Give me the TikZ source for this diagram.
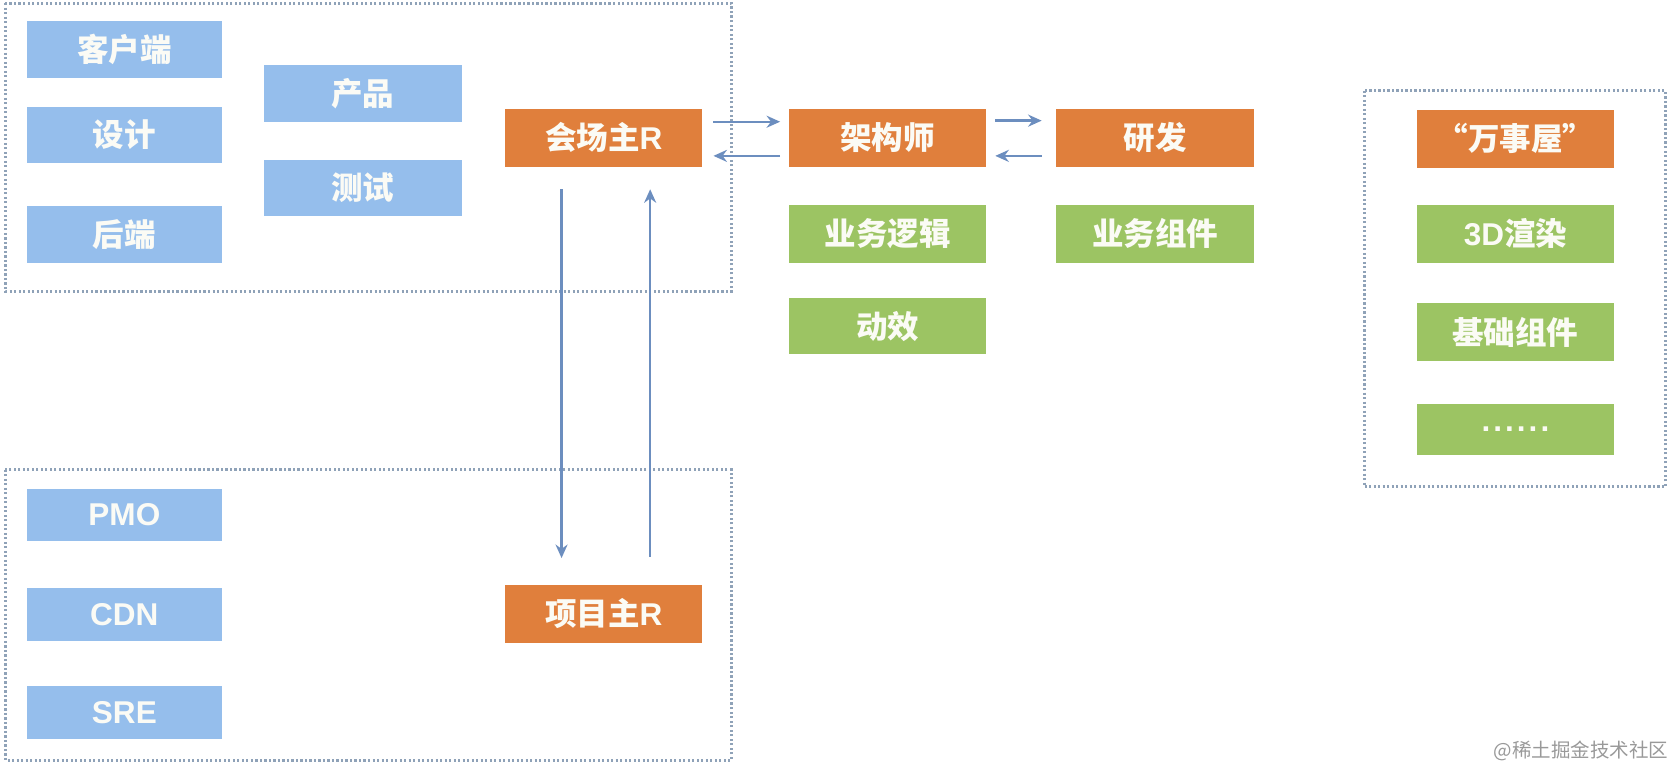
\documentclass[tikz,border=0pt]{standalone}
\usepackage{fontspec}
\setmainfont{Noto Sans CJK SC}
\newfontfamily\wmfont{Noto Sans CJK SC}
\newfontfamily\latinfont{Liberation Sans}
\usetikzlibrary{arrows.meta,calc}
\definecolor{cblue}{HTML}{95BEEC}
\definecolor{corange}{HTML}{E07F3C}
\definecolor{cgreen}{HTML}{9CC463}
\definecolor{cdot}{HTML}{8FA2B8}
\definecolor{carrow}{HTML}{6C8EBF}
\definecolor{ctext}{HTML}{FBFBF5}
\newcommand{\mydot}{.\kern2pt}
\tikzset{
  box/.style={minimum width=185*0.025cm, minimum height=54*0.025cm, inner sep=0pt,
    text=ctext, font=\fontsize{21}{25}\selectfont\bfseries},
  bluebox/.style={box, fill=cblue},
  orangebox/.style={box, fill=corange},
  greenbox/.style={box, fill=cgreen},
  grp/.style={draw=cdot, line width=2pt, dash pattern=on 1.4pt off 1.6pt},
  arr/.style={draw=carrow, line width=1.6pt, -{Stealth[length=9pt,width=8pt]}},
}
\begin{document}
\begin{tikzpicture}[x=0.025cm,y=-0.025cm]
\useasboundingbox (0,0) rectangle (1568,717);
% groups
\draw[grp] (5,3) rectangle (685,273);
\draw[grp] (5,440) rectangle (685,712);
\draw[grp] (1278,85) rectangle (1560,456);
% top-left
\node[bluebox, minimum width=183*0.025cm, minimum height=53*0.025cm] (khd) at (116.5,46.5) {客户端};
\node[bluebox, minimum width=183*0.025cm, minimum height=53*0.025cm] (sj) at (116.5,126.5) {设计};
\node[bluebox, minimum width=183*0.025cm, minimum height=53*0.025cm] (hd) at (116.5,219.5) {后端};
\node[bluebox, minimum width=186*0.025cm, minimum height=53*0.025cm] (cp) at (340,87.5) {产品};
\node[bluebox, minimum width=186*0.025cm, minimum height=53*0.025cm] (cs) at (340,176) {测试};
\node[orangebox] (hcz) at (565.5,129) {会场主{\latinfont R}};
% middle
\node[orangebox] (jgs) at (831.5,129) {架构师};
\node[orangebox, minimum width=186*0.025cm] (yf) at (1082,129) {研发};
\node[greenbox] (ywlj) at (831.5,219) {业务逻辑};
\node[greenbox, minimum width=186*0.025cm] (ywzj) at (1082,219) {业务组件};
\node[greenbox, minimum height=53*0.025cm] (dx) at (831.5,305.5) {动效};
% right
\node[orangebox] (wsw) at (1419.5,130) {“万事屋”};
\node[greenbox] (xr) at (1419.5,219) {{\latinfont 3D}渲染};
\node[greenbox] (jczj) at (1419.5,311) {基础组件};
\node[greenbox, minimum height=48*0.025cm] (more) at (1419.5,402) {\raisebox{-0.15em}{\latinfont\mydot\mydot\mydot\mydot\mydot.}};
% bottom-left
\node[bluebox, minimum width=183*0.025cm, minimum height=49*0.025cm, font=\latinfont\fontsize{21}{25}\selectfont\bfseries] (pmo) at (116.5,482.5) {PMO};
\node[bluebox, minimum width=183*0.025cm, minimum height=49*0.025cm, font=\latinfont\fontsize{21}{25}\selectfont\bfseries] (cdn) at (116.5,575.5) {CDN};
\node[bluebox, minimum width=183*0.025cm, minimum height=49*0.025cm, font=\latinfont\fontsize{21}{25}\selectfont\bfseries] (sre) at (116.5,667.5) {SRE};
\node[orangebox] (xmz) at (565.5,575) {项目主{\latinfont R}};
% arrows
\draw[arr] ([shift={(-39.5,21)}]hcz.south) -- ([shift={(-39.5,-25)}]xmz.north);
\draw[arr] ([shift={(43.5,-26)}]xmz.north) -- ([shift={(43.5,21)}]hcz.south);
\draw[arr] ([shift={(10,-15)}]hcz.east) -- ([shift={(-8,-15)}]jgs.west);
\draw[arr] ([shift={(-8,17)}]jgs.west) -- ([shift={(10,17)}]hcz.east);
\draw[arr] ([shift={(8,-16)}]jgs.east) -- ([shift={(-13,-16)}]yf.west);
\draw[arr] ([shift={(-13,17)}]yf.west) -- ([shift={(8,17)}]jgs.east);
% watermark
\node[anchor=east, text=black!40, font=\wmfont\fontsize{13}{15}\selectfont, inner sep=0pt] (wm) at (1563,703) {@稀土掘金技术社区};
\end{tikzpicture}
\end{document}
